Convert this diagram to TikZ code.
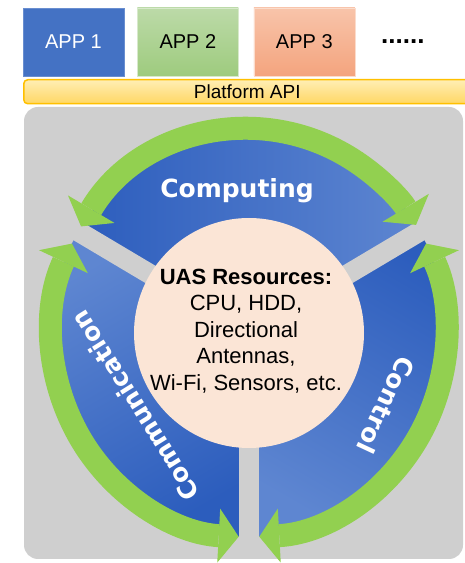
\documentclass[tikz,border=0pt]{standalone}
\usepackage{fontspec}
\setmainfont{Liberation Sans}
\newfontfamily\segfont{DejaVu Sans}
\usetikzlibrary{arrows.meta, positioning}

\definecolor{appblue}{RGB}{68,114,196}
\definecolor{appgreenhi}{RGB}{188,218,168}
\definecolor{appgreenlo}{RGB}{158,203,126}
\definecolor{appredhi}{RGB}{248,196,170}
\definecolor{appredlo}{RGB}{244,164,126}
\definecolor{apihi}{RGB}{255,238,180}
\definecolor{apilo}{RGB}{255,215,100}
\definecolor{apiedge}{RGB}{255,192,0}
\definecolor{panelgray}{RGB}{207,207,207}
\definecolor{segdark}{RGB}{44,93,189}
\definecolor{seglight}{RGB}{94,134,209}
\definecolor{loopgreen}{RGB}{146,208,80}
\definecolor{respeach}{RGB}{251,229,214}

\begin{document}
\begin{tikzpicture}[
        x = 1pt, y = 1pt, node distance = 14pt,
        >= {Triangle[width = 54pt, length = 20pt, line width = 0pt]},
        app/.style = {minimum width = 101pt, minimum height = 68pt, inner sep = 0pt,
            font = \fontsize{20}{24}\selectfont},
        api/.style = {minimum width = 447pt, minimum height = 24pt, inner sep = 0pt,
            rounded corners = 4pt, top color = apihi, bottom color = apilo,
            draw = apiedge, line width = 1.5pt, font = \fontsize{19}{22}\selectfont},
        seg/.style = {top color = segdark, bottom color = seglight},
        gapbar/.style = {draw = panelgray, line width = 20pt},
        ringarrow/.style = {draw = loopgreen, line width = 23pt, <->},
        seglabel/.style = {text = white, inner sep = 0pt,
            font = \segfont\bfseries\fontsize{25}{30}\selectfont}
    ]
      \useasboundingbox (0, 0) rectangle (465, 563);

      % applications and the api bar
      \node[app, fill = appblue, draw = appblue!80!white, text = white] (app1) at (73.5, 521) {APP 1};
      \node[app, top color = appgreenhi, bottom color = appgreenlo, draw = appgreenhi!60!white, right = 13pt of app1] (app2) {APP 2};
      \node[app, top color = appredhi, bottom color = appredlo, draw = appredhi!60!white, right = 15pt of app2] (app3) {APP 3};
      \node[font = \bfseries\fontsize{26}{30}\selectfont, inner sep = 0pt, right = 26pt of app3] (more) {......};
      \node[api, anchor = north west] (api) at (23, 484) {Platform API};

      % resource panel
      \fill[panelgray, rounded corners = 14pt] (24, 4) rectangle (463, 456);
      \coordinate (ctr) at (249, 230);

      \shade[seg, shading angle = 90] (ctr) -- ++(150:197 and 204)
        arc[start angle = 150, end angle = 30, x radius = 197, y radius = 204] -- cycle;
      \shade[seg, shading angle = -150] (ctr) -- ++(270:197 and 204)
        arc[start angle = 270, end angle = 150, x radius = 197, y radius = 204] -- cycle;
      \shade[seg, shading angle = -30] (ctr) -- ++(30:197 and 204)
        arc[start angle = 30, end angle = -90, x radius = 197, y radius = 204] -- cycle;

      \foreach \a in {30, 150, 270}
        \draw[gapbar] (ctr) -- ++(\a:200 and 206);

      \node[circle, fill = respeach, minimum size = 230pt, inner sep = 0pt] (res) at (ctr) {};
      \node[align = center, inner sep = 0pt, font = \fontsize{22}{26.5}\selectfont] (restext)
        at ([shift = {(-3, 2)}] res.center)
        {\textbf{UAS Resources:}\\ CPU, HDD,\\ Directional\\ Antennas,\\ Wi-Fi, Sensors, etc.};

      % green loops round each segment
      \draw[ringarrow] ([shift = {(ctr)}] 148.5:197 and 204)
        arc[start angle = 148.5, end angle = 32, x radius = 197, y radius = 204];
      \draw[ringarrow] ([shift = {(ctr)}] 154:197 and 204)
        arc[start angle = 154, end angle = 267, x radius = 197, y radius = 204];
      \draw[ringarrow] ([shift = {(ctr)}] 273:197 and 204)
        arc[start angle = 273, end angle = 386, x radius = 197, y radius = 204];

      \node[seglabel] (comp) at (237, 372) {Computing};
      \node[seglabel, rotate = 122] (comm) at (135, 157) {Communication};
      \node[seglabel, rotate = 245] (ctrl) at (386, 158) {Control};
    \end{tikzpicture}
\end{document}
